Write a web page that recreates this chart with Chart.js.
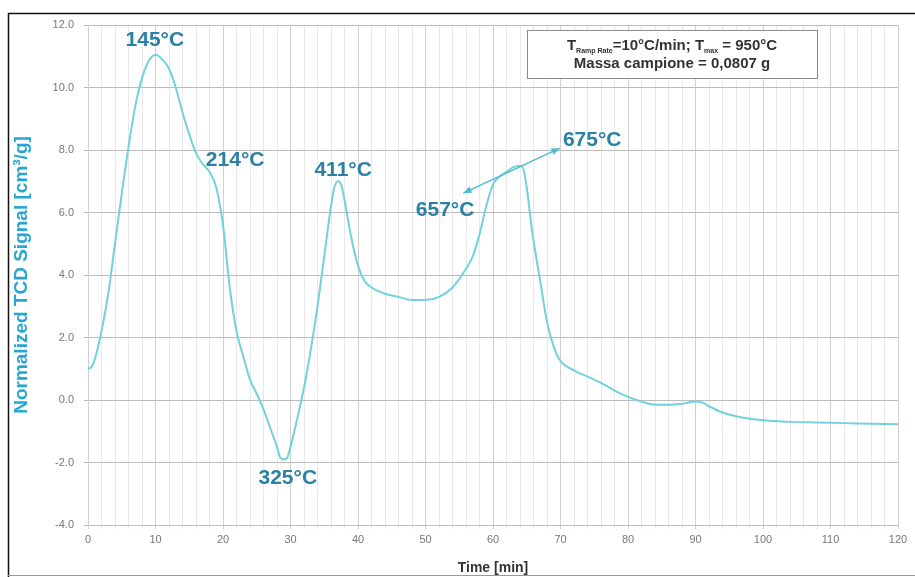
<!DOCTYPE html>
<html>
<head>
<meta charset="utf-8">
<title>TPD TCD signal</title>
<script src="https://cdn.jsdelivr.net/npm/chart.js@4.4.1/dist/chart.umd.min.js"></script>
<style>
  html, body { margin: 0; padding: 0; background: #fff; }
  #wrap { width: 915px; height: 577px; position: relative; }
</style>
</head>
<body>
<div id="wrap"><canvas id="chart" width="915" height="577"></canvas></div>
<script>
// Time [min] and normalized TCD signal [cm3/g]
const timeMin = [0, 0.5, 1, 2, 3, 4, 5, 6, 7, 8, 9, 10, 11, 12, 13, 14, 15, 16, 17, 18, 19, 20,
  21, 22, 23, 24, 25, 26, 27, 28, 28.5, 29, 29.5, 30, 31, 32, 33, 34, 35, 36, 36.5, 37, 37.5, 38,
  39, 40, 41, 42, 44, 46, 48, 50, 52, 54, 56, 57, 58, 59, 60, 61, 62, 63, 64, 64.5, 65, 65.8, 67,
  68, 69, 70, 72, 74, 76, 78, 80, 82, 84, 86, 88, 90, 91, 92, 94, 96, 98, 100, 104, 108, 112, 116, 120];
const signal = [1.0, 1.05, 1.3, 2.2, 3.4, 5.0, 6.6, 8.1, 9.4, 10.3, 10.85, 11.05, 10.9, 10.6, 10.0, 9.2, 8.5, 7.9, 7.55, 7.3, 6.8, 5.6,
  3.6, 2.2, 1.4, 0.65, 0.2, -0.3, -0.9, -1.5, -1.85, -1.9, -1.85, -1.5, -0.6, 0.4, 1.6, 3.0, 4.6, 6.2, 6.8, 7.0, 6.9, 6.4,
  5.2, 4.3, 3.8, 3.6, 3.4, 3.3, 3.2, 3.2, 3.3, 3.6, 4.2, 4.6, 5.3, 6.2, 6.9, 7.15, 7.3, 7.45, 7.5, 7.4, 6.8, 5.4, 3.8,
  2.5, 1.7, 1.25, 0.95, 0.75, 0.55, 0.3, 0.1, -0.05, -0.15, -0.15, -0.12, -0.05, -0.08, -0.2, -0.4, -0.52, -0.6, -0.65, -0.7, -0.72, -0.74, -0.76, -0.78];

// peak temperature labels: text, time, signal
const peakLabels = ['145°C', '214°C', '411°C', '325°C', '675°C', '657°C'];
const peakLabelX = [9.9, 21.8, 37.8, 29.6, 74.7, 52.9];
const peakLabelY = [11.5, 7.68, 7.36, -2.5, 8.32, 6.08];

// double arrow between the 657 and 675 labels
const arrowX = [55.6, 69.9];
const arrowY = [6.62, 8.06];

const lineColor = '#72d2da';
const labelColor = '#2b80a3';
const FONT = '"Liberation Sans", Arial, sans-serif';

const pageFrame = {
  id: 'pageFrame',
  beforeDraw(chart) {
    const c = chart.ctx;
    c.save();
    c.fillStyle = '#fff';
    c.fillRect(0, 0, chart.width, chart.height);
    c.restore();
  },
  afterDraw(chart) {
    const c = chart.ctx;
    c.save();
    c.strokeStyle = '#111';
    c.lineWidth = 1.5;
    c.beginPath();
    c.moveTo(8.5, chart.height);
    c.lineTo(8.5, 13.5);
    c.lineTo(chart.width, 13.5);
    c.stroke();
    c.strokeStyle = '#999';
    c.lineWidth = 1;
    c.beginPath();
    c.moveTo(8, chart.height - 1.5);
    c.lineTo(chart.width, chart.height - 1.5);
    c.stroke();
    c.restore();
  }
};

const annotations = {
  id: 'annotations',
  afterDatasetsDraw(chart) {
    const c = chart.ctx;
    const xs = chart.scales.x, ys = chart.scales.y;
    c.save();

    // arrow
    const x1 = xs.getPixelForValue(arrowX[0]), y1 = ys.getPixelForValue(arrowY[0]);
    const x2 = xs.getPixelForValue(arrowX[1]), y2 = ys.getPixelForValue(arrowY[1]);
    c.strokeStyle = '#4cbcd0';
    c.fillStyle = '#4cbcd0';
    c.lineWidth = 1.5;
    c.beginPath();
    c.moveTo(x1, y1);
    c.lineTo(x2, y2);
    c.stroke();
    const ang = Math.atan2(y2 - y1, x2 - x1);
    [[x2, y2, ang], [x1, y1, ang + Math.PI]].forEach(([px, py, a]) => {
      c.beginPath();
      c.moveTo(px, py);
      c.lineTo(px - 9 * Math.cos(a - 0.4), py - 9 * Math.sin(a - 0.4));
      c.lineTo(px - 9 * Math.cos(a + 0.4), py - 9 * Math.sin(a + 0.4));
      c.closePath();
      c.fill();
    });

    // peak labels
    c.font = 'bold 21px ' + FONT;
    c.fillStyle = labelColor;
    c.textAlign = 'center';
    c.textBaseline = 'middle';
    peakLabels.forEach((t, i) => {
      c.fillText(t, xs.getPixelForValue(peakLabelX[i]), ys.getPixelForValue(peakLabelY[i]));
    });

    // info box
    const bx = 527, by = 30, bw = 290, bh = 48;
    c.fillStyle = '#fff';
    c.fillRect(bx, by, bw, bh);
    c.strokeStyle = '#8a8a8a';
    c.lineWidth = 1;
    c.strokeRect(bx + 0.5, by + 0.5, bw, bh);
    c.fillStyle = '#333';
    c.textBaseline = 'alphabetic';
    const cx = bx + bw / 2;
    const big = 'bold 15px ' + FONT, small = 'bold 7px ' + FONT;
    const parts = [
      ['T', big, 0],
      ['Ramp Rate', small, 3],
      ['=10°C/min; T', big, 0],
      ['max', small, 3],
      [' = 950°C', big, 0]
    ];
    let total = 0;
    parts.forEach(p => { c.font = p[1]; total += c.measureText(p[0]).width; });
    let px = cx - total / 2;
    c.textAlign = 'left';
    parts.forEach(p => {
      c.font = p[1];
      c.fillText(p[0], px, by + 20 + p[2]);
      px += c.measureText(p[0]).width;
    });
    c.textAlign = 'center';
    c.font = 'bold 15px ' + FONT;
    c.fillText('Massa campione = 0,0807 g', cx, by + 38);
    c.restore();
  }
};

new Chart(document.getElementById('chart'), {
  type: 'line',
  data: {
    datasets: [{
      data: timeMin.map((t, i) => ({ x: t, y: signal[i] })),
      borderColor: lineColor,
      borderWidth: 2,
      pointRadius: 0,
      fill: false,
      cubicInterpolationMode: 'monotone'
    }]
  },
  options: {
    responsive: false,
    animation: false,
    layout: { padding: { left: 10, top: 25, right: 17, bottom: 0 } },
    plugins: { legend: { display: false }, tooltip: { enabled: false } },
    scales: {
      x: {
        type: 'linear',
        min: 0, max: 120,
        afterFit: s => { s.height = 52; },
        ticks: {
          stepSize: 2,
          autoSkip: false,
          maxRotation: 0,
          padding: 4,
          color: '#777',
          font: { size: 11, family: FONT },
          callback: v => (v % 10 === 0 ? String(v) : '')
        },
        grid: {
          color: ctx => (ctx.tick && ctx.tick.value % 10 === 0 ? '#d0d0d0' : '#e8e8e8'),
          tickLength: 4
        },
        border: { color: '#bdbdbd' },
        title: {
          display: true,
          text: 'Time [min]',
          color: '#333',
          font: { size: 14, weight: 'bold', family: FONT },
          padding: { top: 1, bottom: 0 }
        }
      },
      y: {
        min: -4, max: 12,
        afterFit: s => { s.width = 78; },
        ticks: {
          stepSize: 2,
          padding: 10,
          color: '#777',
          font: { size: 11, family: FONT },
          callback: v => v.toFixed(1)
        },
        grid: { color: '#bcbcbc', tickLength: 4 },
        border: { color: '#d0d0d0' },
        title: {
          display: true,
          text: 'Normalized TCD Signal [cm³/g]',
          color: '#27a6d2',
          font: { size: 19, weight: 'bold', family: FONT },
          padding: { top: 0, bottom: 2 }
        }
      }
    }
  },
  plugins: [pageFrame, annotations]
});
</script>
</body>
</html>
